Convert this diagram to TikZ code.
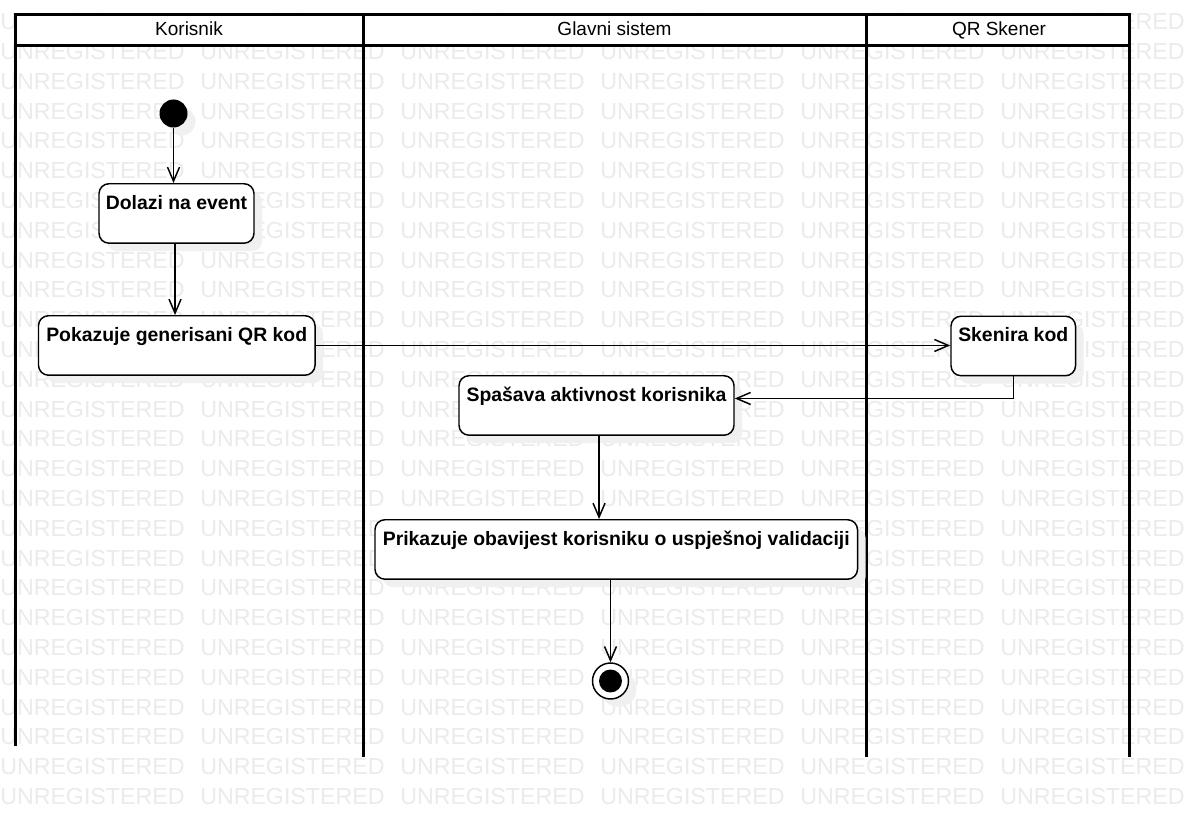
\documentclass[tikz,border=0pt]{standalone}
\usepackage{fontspec}
\setmainfont{Liberation Sans}
\usetikzlibrary{arrows.meta,calc,shadows}
\begin{document}
\begin{tikzpicture}[x=0.75pt,y=-0.75pt,
  wm/.style={anchor=base west, inner sep=0pt, text=black!8,
    font=\fontsize{17.4pt}{19pt}\selectfont},
  lane/.style={line width=2.25pt},
  title/.style={anchor=base, inner sep=0pt, font=\fontsize{14.25pt}{16pt}\selectfont},
  soft/.style={drop shadow={shadow xshift=6pt, shadow yshift=-6pt, fill=black!6, opacity=1}},
  act/.style={draw, line width=1.1pt, rounded corners=7.5pt, fill=white, soft,
    inner sep=0pt, anchor=north, minimum height=44.6pt,
    font=\bfseries\fontsize{14.55pt}{17pt}\selectfont,
    text height=19.1pt, text depth=25.5pt},
  flow/.style={line width=1.1pt,
    -{Straight Barb[length=10.5pt,width=9pt,line width=1.1pt]}},
]
\useasboundingbox (0,0) rectangle (1189,817);
\fill[white] (0,0) rectangle (1189,817);

% background watermark rows
\foreach \k in {0,...,26}{
  \foreach \i in {0,...,5}{
    \node[wm] (wm-\k-\i) at (200*\i, 29.7+29.8*\k) {UNREGISTERED};
  }
}

% swimlanes
\draw[lane, fill=white] (15,15) rectangle (1129,45.7);
\draw[lane] (15,45.7) -- (15,746);
\draw[lane] (363,15) -- (363,757);
\draw[lane] (866.5,15) -- (866.5,757);
\draw[lane] (1129,45.7) -- (1129,757);
\node[title] (lane1) at (189,36) {Korisnik};
\node[title] (lane2) at (614.5,36) {Glavni sistem};
\node[title] (lane3) at (999,36) {QR Skener};

% start and end
\node[circle, fill=black, minimum size=21pt, inner sep=0pt, soft] (start) at (173.5,113.5) {};
\node[circle, draw, line width=1.1pt, fill=white, minimum size=27pt, inner sep=0pt, soft] (end) at (610.5,681) {};
\fill (end.center) circle (8.6pt);

% activities
\node[act, minimum width=116.25pt] (dolazi) at (176.5,183) {Dolazi na event};
\node[act, minimum width=207.4pt] (pokazuje) at (176.75,315) {Pokazuje generisani QR kod};
\node[act, minimum width=93.4pt] (skenira) at (1013.25,315.5) {Skenira kod};
\node[act, minimum width=206.25pt] (spasava) at (596.5,375) {Spašava aktivnost korisnika};
\node[act, minimum width=361.9pt] (prikazuje) at (616.25,519) {Prikazuje obavijest korisniku o uspješnoj validaciji};

% control flow
\draw[flow] (start.south) -- (start.south |- dolazi.north);
\draw[flow] ([xshift=-1.1pt]dolazi.south) -- ([xshift=-1.1pt]dolazi.south |- pokazuje.north);
\draw[flow] (pokazuje.east) -- (pokazuje.east -| skenira.west);
\draw[flow] (skenira.south) |- ([yshift=5.25pt]spasava.east);
\draw[flow] ([xshift=1.9pt]spasava.south) -- ([xshift=1.9pt]spasava.south |- prikazuje.north);
\draw[flow] (prikazuje.south -| end.north) -- (end.north);
\end{tikzpicture}
\end{document}
